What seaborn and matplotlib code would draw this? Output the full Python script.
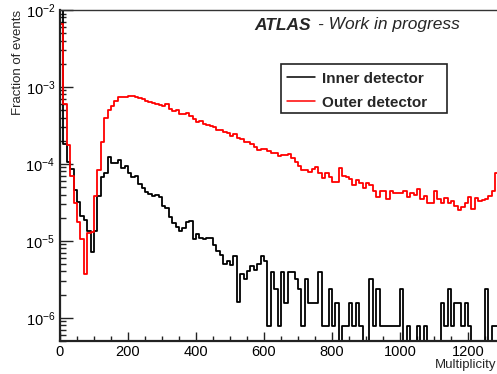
import numpy as np
import pandas as pd
import matplotlib
matplotlib.use("Agg")
import matplotlib.pyplot as plt
import seaborn as sns
from matplotlib.ticker import MultipleLocator, LogLocator, NullFormatter, LogFormatterSciNotation
from matplotlib.lines import Line2D
from matplotlib.patches import Rectangle

# ---------------- data (fraction of events per 10-unit multiplicity bin) -------------
bin_edges = [float(v) for v in np.arange(0, 1300, 10)]          # 0 .. 1290
inner_detector = [
    2.0e-2, 1.8e-4, 1.05e-4, 8.5e-5, 4.6e-5, 3.2e-5, 2.1e-5, 1.86e-5, 1.36e-5, 7.1e-6,
    1.36e-5, 3.8e-5, 6.8e-5, 7.6e-5, 1.22e-4, 1.04e-4, 1.02e-4, 1.13e-4, 8.8e-5, 9.4e-5,
    7.7e-5, 6.7e-5, 7.0e-5, 5.5e-5, 4.8e-5, 4.35e-5, 4.05e-5, 3.85e-5, 3.95e-5, 3.75e-5,
    2.85e-5, 2.65e-5, 2.07e-5, 1.7e-5, 1.53e-5, 1.36e-5, 1.45e-5, 1.75e-5, 1.8e-5, 1.05e-5,
    1.22e-5, 1.1e-5, 1.05e-5, 1.1e-5, 1.1e-5, 8.9e-6, 7.3e-6, 6.6e-6, 5.0e-6, 5.5e-6,
    4.9e-6, 6.3e-6, 1.6e-6, 3.7e-6, 3.2e-6, 4.0e-6, 4.7e-6, 4.2e-6, 5.0e-6, 6.3e-6,
    5.5e-6, 7.9e-7, 3.95e-6, 2.37e-6, 7.9e-7, 3.95e-6, 1.58e-6, 3.95e-6, 3.95e-6, 3.16e-6,
    2.37e-6, 7.9e-7, 3.16e-6, 1.58e-6, 1.58e-6, 1.58e-6, 3.95e-6, 7.9e-7, 7.9e-7, 2.37e-6,
    7.9e-7, 1.58e-6, 0, 7.9e-7, 7.9e-7, 1.58e-6, 7.9e-7, 1.58e-6, 7.9e-7, 0,
    0, 3.16e-6, 7.9e-7, 2.37e-6, 7.9e-7, 7.9e-7, 7.9e-7, 7.9e-7, 7.9e-7, 7.9e-7,
    2.37e-6, 0, 7.9e-7, 0, 0, 7.9e-7, 0, 7.9e-7, 0, 0,
    0, 0, 1.58e-6, 7.9e-7, 2.37e-6, 7.9e-7, 1.58e-6, 1.58e-6, 7.9e-7, 1.58e-6,
    7.9e-7, 0, 0, 0, 0, 2.37e-6, 0, 7.9e-7, 7.9e-7,
]
outer_detector = [
    6.6e-3, 6.0e-4, 1.77e-4, 7.0e-5, 3.15e-5, 1.78e-5, 1.05e-5, 3.7e-6, 1.25e-5, 1.3e-5,
    3.8e-5, 8.4e-5, 1.95e-4, 3.9e-4, 5.0e-4, 5.7e-4, 6.6e-4, 7.3e-4, 7.35e-4, 7.5e-4,
    7.6e-4, 7.7e-4, 7.35e-4, 7.1e-4, 6.9e-4, 6.6e-4, 6.4e-4, 6.1e-4, 5.95e-4, 5.8e-4,
    5.7e-4, 5.95e-4, 5.1e-4, 4.8e-4, 5.0e-4, 4.45e-4, 4.4e-4, 4.55e-4, 4.2e-4, 3.8e-4,
    3.55e-4, 3.65e-4, 3.3e-4, 3.2e-4, 3.1e-4, 3.0e-4, 2.8e-4, 2.75e-4, 2.6e-4, 2.55e-4,
    2.3e-4, 2.45e-4, 2.2e-4, 2.1e-4, 1.95e-4, 1.9e-4, 1.82e-4, 1.68e-4, 1.52e-4, 1.57e-4,
    1.57e-4, 1.45e-4, 1.38e-4, 1.38e-4, 1.27e-4, 1.31e-4, 1.31e-4, 1.35e-4, 1.19e-4, 1.07e-4,
    9.4e-5, 8.4e-5, 8.4e-5, 7.9e-5, 8.5e-5, 9.0e-5, 7.7e-5, 6.5e-5, 7.6e-5, 6.7e-5,
    5.9e-5, 5.9e-5, 8.8e-5, 7.0e-5, 6.7e-5, 6.3e-5, 5.35e-5, 6.2e-5, 5.6e-5, 4.8e-5,
    5.7e-5, 5.35e-5, 4.4e-5, 3.7e-5, 4.5e-5, 4.4e-5, 3.5e-5, 4.4e-5, 4.25e-5, 4.25e-5,
    4.15e-5, 4.45e-5, 3.75e-5, 4.25e-5, 3.95e-5, 4.7e-5, 3.5e-5, 3.85e-5, 3.15e-5, 3.1e-5,
    4.5e-5, 3.5e-5, 3.1e-5, 3.6e-5, 3.15e-5, 3.25e-5, 2.85e-5, 2.5e-5, 2.75e-5, 3.1e-5,
    3.75e-5, 2.6e-5, 3.6e-5, 3.25e-5, 3.4e-5, 3.5e-5, 3.85e-5, 4.45e-5, 7.6e-5,
]
series_names = ["Inner detector", "Outer detector"]
series_colors = ["black", "red"]
x_tick_values = [0, 200, 400, 600, 800, 1000, 1200]

# ---------------- style -------------
sns.set_style("ticks")
plt.rcParams["font.family"] = ["Liberation Sans", "DejaVu Sans"]
plt.rcParams["mathtext.fontset"] = "custom"
plt.rcParams["mathtext.rm"] = "Liberation Sans"
plt.rcParams["mathtext.it"] = "Liberation Sans:italic"
plt.rcParams["mathtext.bf"] = "Liberation Sans:bold"

W, H = 497, 374
fig = plt.figure(figsize=(W / 100, H / 100), dpi=100)
ax = fig.add_axes([60 / W, 33 / H, 437 / W, 331 / H])

centers = [e + 5 for e in bin_edges[:-1]]
frames = {
    series_names[0]: pd.DataFrame({"multiplicity": centers, "fraction": inner_detector}),
    series_names[1]: pd.DataFrame({"multiplicity": centers, "fraction": outer_detector}),
}
for name, col in zip(series_names, series_colors):
    sns.histplot(data=frames[name], x="multiplicity", weights="fraction", bins=bin_edges,
                 element="step", fill=False, color=col, linewidth=1.3, ax=ax)

ax.set_yscale("log", nonpositive="clip")
ax.set_xlim(0, 1285)
ax.set_ylim(5e-7, 1e-2)
ax.set_xlabel("")
ax.set_ylabel("")

ax.xaxis.set_major_locator(MultipleLocator(200))
ax.xaxis.set_minor_locator(MultipleLocator(50))
ax.set_xticks(x_tick_values)
ax.yaxis.set_major_locator(LogLocator(base=10, numticks=20))
ax.yaxis.set_minor_locator(LogLocator(base=10, subs=np.arange(2, 10), numticks=20))
ax.yaxis.set_minor_formatter(NullFormatter())
ax.yaxis.set_major_formatter(LogFormatterSciNotation())

ax.tick_params(axis="both", which="both", direction="in", colors="#222222",
               labelcolor="black", labelsize=10.5, width=1.0, top=False, right=False)
ax.tick_params(axis="y", which="major", length=9, pad=3.5)
ax.tick_params(axis="y", which="minor", length=4.5)
ax.tick_params(axis="x", which="major", length=6.5, pad=3.0)
ax.tick_params(axis="x", which="minor", length=3.5)

for s in ["left", "bottom"]:
    ax.spines[s].set_linewidth(1.6)
    ax.spines[s].set_color("#222222")
ax.spines["top"].set_linewidth(1.0)
ax.spines["top"].set_color("#333333")
ax.spines["right"].set_visible(False)

# axis titles
fig.text(18 / W, 1 - 10 / H, "Fraction of events", rotation=90, ha="center", va="top",
         fontsize=9.5)
fig.text(496 / W, 1 - 365 / H, "Multiplicity", ha="right", va="center", fontsize=9.5)

# ATLAS label
fig.text(254 / W, 1 - 29.5 / H, "ATLAS", fontsize=12.5, fontweight="bold",
         fontstyle="italic", ha="left", va="baseline")
fig.text(318 / W, 1 - 29.5 / H, "- Work in progress", fontsize=12.5,
         fontstyle="italic", ha="left", va="baseline")

# legend box
fig.add_artist(Rectangle((281 / W, 1 - 113 / H), 166 / W, 49 / H, transform=fig.transFigure,
                         facecolor="white", edgecolor="#222222", linewidth=1.2, zorder=5))
for name, col, ly, by in zip(series_names, series_colors, [76.7, 100.7], [83.3, 107.3]):
    fig.add_artist(Line2D([287 / W, 315 / W], [1 - ly / H, 1 - ly / H],
                          transform=fig.transFigure, color=col, linewidth=1.1, zorder=6))
    fig.text(322 / W, 1 - by / H, name, fontsize=11, fontweight="bold",
             ha="left", va="baseline", zorder=6)

fig.savefig("out.png", dpi=100)
